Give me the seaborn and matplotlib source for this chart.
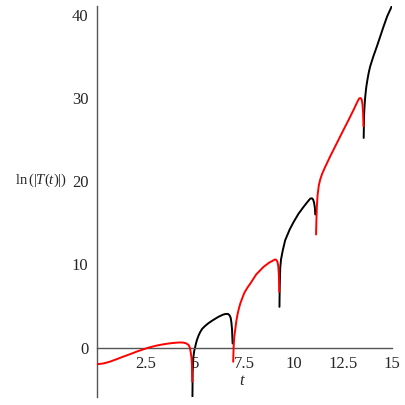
import numpy as np
import pandas as pd
import matplotlib
matplotlib.use("Agg")
import matplotlib.pyplot as plt
import seaborn as sns

# ln|T(t)|, one branch per sign of T
red1_t = [0.0, 0.35, 0.68, 1.0, 1.35, 1.7, 2.03, 2.37, 2.71, 3.05, 3.39, 3.73,
          4.07, 4.25, 4.4, 4.55, 4.66, 4.73, 4.78, 4.81, 4.83, 4.85]
red1_v = [-2.0, -1.9, -1.68, -1.4, -1.08, -0.78, -0.48, -0.2, 0.05, 0.25, 0.4, 0.52,
          0.6, 0.62, 0.6, 0.5, 0.32, 0.0, -0.68, -1.2, -1.9, -4.1]

black1_t = [4.86, 4.87, 4.89, 4.91, 4.95, 5.0, 5.05, 5.1, 5.17, 5.25, 5.35, 5.5,
            5.68, 5.9, 6.18, 6.4, 6.55, 6.66, 6.74, 6.8, 6.84, 6.87, 6.9]
black1_v = [-5.9, -3.0, -1.8, -1.08, -0.4, 0.1, 0.6, 1.0, 1.45, 1.85, 2.25, 2.6,
            2.95, 3.3, 3.7, 3.95, 4.05, 4.05, 3.9, 3.6, 3.0, 2.2, 0.5]

red2_t = [6.93, 6.95, 6.98, 7.03, 7.09, 7.15, 7.22, 7.29, 7.4, 7.5, 7.65, 7.8, 8.1,
          8.47, 8.75, 8.98, 9.06, 9.12, 9.18, 9.22, 9.25, 9.27]
red2_v = [-1.7, 0.0, 1.2, 2.1, 3.2, 4.0, 4.7, 5.3, 6.0, 6.6, 7.2, 7.7, 8.8,
          9.7, 10.2, 10.5, 10.6, 10.55, 10.3, 9.8, 8.8, 6.7]

black2_t = [9.28, 9.29, 9.30, 9.32, 9.36, 9.45, 9.57, 9.8, 10.0, 10.25, 10.5, 10.7,
            10.84, 10.93, 10.99, 11.04, 11.08, 11.1]
black2_v = [4.9, 6.8, 8.0, 9.6, 10.6, 11.7, 12.9, 14.2, 15.1, 16.1, 16.9, 17.5,
            17.9, 17.95, 17.8, 17.4, 16.8, 16.0]

red3_t = [11.14, 11.15, 11.16, 11.18, 11.22, 11.28, 11.35, 11.45, 11.6, 11.86, 12.2,
          12.54, 12.8, 13.05, 13.25, 13.33, 13.4, 13.46, 13.5, 13.53, 13.55]
red3_v = [13.6, 14.6, 15.5, 16.9, 18.4, 19.5, 20.2, 20.9, 21.7, 23.0, 24.6,
          26.2, 27.4, 28.6, 29.6, 29.95, 30.0, 29.8, 29.2, 28.2, 26.6]

black3_t = [13.56, 13.57, 13.58, 13.61, 13.64, 13.69, 13.75, 13.82, 13.89, 14.05,
            14.23, 14.4, 14.57, 14.75, 15.0]
black3_v = [25.2, 26.8, 28.0, 29.3, 30.2, 31.3, 32.2, 33.1, 33.8, 35.0,
            36.2, 37.4, 38.6, 39.8, 41.1]

x_ticks = [2.5, 5, 7.5, 10, 12.5, 15]
x_tick_labels = ["2.5", "5", "7.5", "10", "12.5", "15"]
y_ticks = [0, 10, 20, 30, 40]

segments = [
    (red1_t, red1_v, "red"),
    (black1_t, black1_v, "black"),
    (red2_t, red2_v, "red"),
    (black2_t, black2_v, "black"),
    (red3_t, red3_v, "red"),
    (black3_t, black3_v, "black"),
]

sns.set_style("white")
plt.rcParams['font.family'] = ['Liberation Serif', 'DejaVu Serif']
plt.rcParams['mathtext.fontset'] = 'custom'
plt.rcParams['mathtext.rm'] = 'Liberation Serif'
plt.rcParams['mathtext.it'] = 'Liberation Serif:italic'

fig = plt.figure(figsize=(4.05, 4.05), dpi=100)
ax = fig.add_axes([0.239, 0.0205, 0.729, 0.9655])

for t, v, col in segments:
    seg_df = pd.DataFrame({'t': t, 'v': v})
    sns.lineplot(data=seg_df, x='t', y='v', color=col, linewidth=1.4,
                 sort=False, estimator=None, ax=ax,
                 zorder=3 if col == "red" else 2)

ax.set_xlim(0, 15)
ax.set_ylim(-5.9, 41.1)

for s in ['top', 'right']:
    ax.spines[s].set_visible(False)
ax.spines['bottom'].set_position(('data', 0))
ax.spines['left'].set_position(('data', 0))
for s in ['bottom', 'left']:
    ax.spines[s].set_color('#555555')
    ax.spines[s].set_linewidth(1.0)

ax.set_xticks(x_ticks)
ax.set_xticklabels(x_tick_labels)
ax.set_yticks(y_ticks)
ax.tick_params(axis='x', direction='inout', length=4, width=0.8,
               color='#777777', labelsize=12, pad=4)
ax.tick_params(axis='y', direction='out', length=3, width=0.8,
               color='#777777', labelsize=12, pad=3)

ax.set_xlabel('$t$', fontsize=12)
ax.xaxis.set_label_coords(0.492, 0.06)
ax.set_ylabel(r'$\mathrm{ln}\,(|T(t)|)$', fontsize=10.5, rotation=0,
              ha='center', va='center')
ax.yaxis.set_label_coords(-0.19, 0.554)

fig.savefig('out.png', dpi=100)
